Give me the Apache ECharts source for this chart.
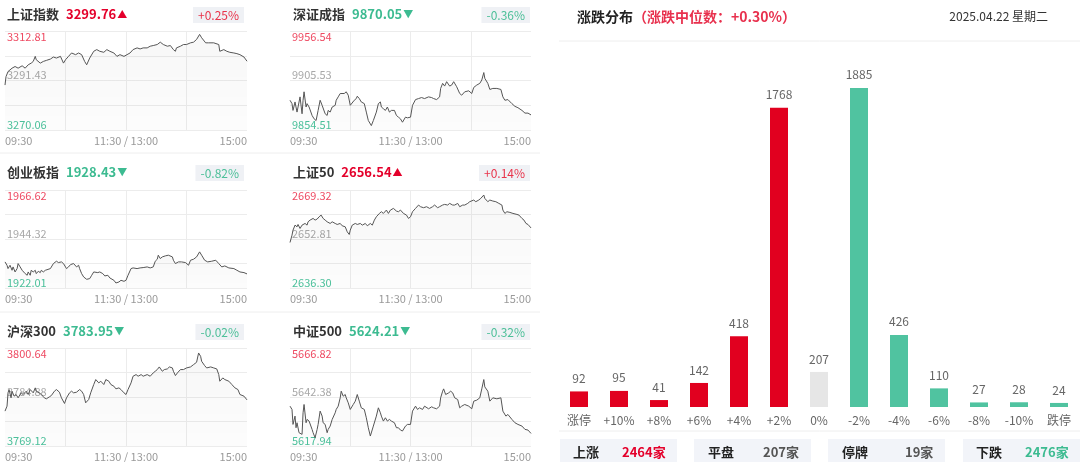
<!DOCTYPE html>
<html>
<head>
<meta charset="utf-8">
<script src="https://cdn.jsdelivr.net/npm/echarts@6/dist/echarts.min.js"></script>
<style>
  html, body { margin: 0; padding: 0; background: #fff; }
  #main { width: 1080px; height: 462px; }
</style>
</head>
<body>
<div id="main"></div>
<script>
// index panels
const indexNames = ['上证指数', '深证成指', '创业板指', '上证50', '沪深300', '中证500'];
const indexLast = ['3299.76', '9870.05', '1928.43', '2656.54', '3783.95', '5624.21'];
const indexPct = ['+0.25%', '-0.36%', '-0.82%', '+0.14%', '-0.02%', '-0.32%'];
const axisHigh = [3312.81, 9956.54, 1966.62, 2669.32, 3800.64, 5666.82];
const axisMid = [3291.43, 9905.53, 1944.32, 2652.81, 3784.88, 5642.38];
const axisLow = [3270.06, 9854.51, 1922.01, 2636.30, 3769.12, 5617.94];
const timeLabels = ['09:30', '11:30 / 13:00', '15:00'];

// [minute from 09:30, index value]
const lineSH = [[0,3289.46],[1,3293.11],[3,3295.30],[7,3296.76],[10,3297.48],[13,3296.76],[17,3297.78],[20,3296.76],[23,3298.21],[26,3298.94],[28,3299.67],[30,3301.86],[31,3300.40],[35,3298.94],[38,3299.67],[41,3300.11],[45,3300.69],[48,3301.57],[51,3301.13],[55,3301.86],[58,3298.94],[60,3300.40],[63,3301.86],[66,3303.32],[70,3302.59],[73,3303.32],[76,3302.59],[79,3299.67],[81,3298.21],[84,3301.13],[88,3304.05],[91,3304.78],[94,3304.05],[98,3303.61],[101,3304.78],[104,3304.05],[108,3303.32],[111,3301.86],[114,3302.59],[118,3301.86],[121,3302.59],[124,3303.32],[127,3304.78],[131,3305.51],[134,3305.07],[137,3305.51],[141,3305.51],[144,3306.24],[147,3306.53],[151,3306.97],[154,3307.99],[157,3306.97],[161,3306.24],[164,3306.53],[167,3304.78],[169,3304.05],[170,3305.51],[174,3306.24],[177,3306.97],[180,3306.97],[184,3307.70],[187,3307.99],[190,3309.16],[193,3311.35],[195,3309.89],[199,3307.70],[202,3307.70],[207,3307.70],[212,3306.97],[213,3304.05],[217,3304.78],[220,3304.05],[223,3303.61],[227,3303.32],[230,3303.03],[233,3302.59],[237,3301.57],[240,3299.76]];
const lineSZ = [[0,9885.16],[2,9881.68],[3,9874.71],[5,9883.42],[7,9872.97],[8,9878.20],[10,9888.64],[12,9871.23],[13,9885.16],[14,9893.87],[16,9878.20],[17,9881.68],[19,9878.20],[22,9869.49],[24,9866.01],[26,9864.27],[28,9874.71],[30,9885.16],[32,9879.94],[33,9878.20],[35,9871.23],[37,9869.49],[38,9874.71],[40,9872.97],[42,9878.20],[45,9879.94],[46,9885.16],[48,9888.64],[50,9892.12],[51,9893.87],[54,9892.12],[56,9893.87],[58,9890.38],[60,9879.94],[61,9880.98],[64,9885.16],[66,9886.90],[67,9889.34],[69,9886.90],[71,9883.42],[74,9881.68],[76,9872.97],[78,9864.27],[81,9859.05],[83,9864.27],[86,9872.97],[88,9881.68],[90,9883.42],[91,9878.20],[93,9876.46],[95,9874.71],[97,9878.20],[99,9872.97],[101,9874.71],[104,9874.71],[106,9869.49],[108,9867.75],[110,9866.01],[112,9862.53],[115,9867.75],[117,9867.05],[120,9867.75],[122,9879.94],[125,9885.86],[128,9886.90],[131,9887.95],[134,9886.90],[138,9888.64],[141,9887.95],[143,9886.90],[146,9885.86],[149,9888.64],[150,9897.35],[152,9902.57],[154,9899.78],[156,9904.31],[159,9899.78],[161,9900.83],[163,9904.31],[166,9899.09],[169,9892.12],[171,9890.38],[174,9893.87],[178,9894.91],[181,9892.12],[183,9898.39],[186,9900.83],[189,9902.57],[191,9906.05],[193,9913.71],[194,9907.79],[197,9902.57],[199,9896.30],[202,9897.35],[206,9897.35],[210,9896.30],[212,9888.64],[214,9885.16],[217,9885.86],[221,9881.68],[224,9878.89],[227,9877.50],[231,9874.71],[234,9871.93],[237,9871.93],[240,9870.05]];
const lineCYB = [[0,1933.89],[2,1932.37],[3,1930.85],[5,1932.37],[7,1930.08],[8,1931.61],[10,1929.32],[12,1930.85],[13,1933.13],[15,1931.61],[17,1930.08],[18,1929.32],[20,1928.56],[22,1927.80],[23,1929.32],[25,1927.80],[26,1930.08],[28,1929.32],[30,1930.08],[31,1928.56],[33,1929.63],[35,1929.02],[36,1930.08],[38,1929.32],[40,1930.08],[41,1930.08],[45,1930.85],[48,1933.13],[51,1934.20],[53,1933.59],[56,1933.89],[58,1933.13],[61,1930.85],[63,1931.61],[65,1932.67],[68,1933.13],[71,1931.61],[73,1932.37],[74,1930.85],[76,1928.56],[78,1927.04],[81,1925.97],[84,1926.28],[86,1927.80],[88,1929.32],[89,1930.08],[92,1929.02],[94,1929.32],[97,1928.56],[99,1927.50],[102,1927.80],[104,1926.58],[108,1925.52],[110,1924.30],[113,1924.76],[115,1925.52],[118,1925.06],[120,1925.52],[122,1927.80],[125,1930.85],[127,1931.15],[131,1930.85],[134,1931.15],[137,1931.30],[141,1931.61],[144,1931.15],[147,1931.61],[149,1934.20],[151,1935.11],[152,1936.94],[154,1935.41],[156,1936.17],[159,1936.63],[162,1936.94],[166,1936.17],[167,1934.65],[169,1933.13],[172,1933.89],[175,1933.89],[179,1933.59],[182,1932.37],[184,1934.65],[187,1935.11],[190,1936.17],[193,1938.46],[195,1936.94],[198,1934.65],[201,1933.89],[205,1934.20],[209,1934.65],[212,1933.13],[215,1931.61],[218,1932.06],[222,1931.15],[227,1930.85],[230,1930.08],[233,1929.32],[237,1929.02],[240,1928.43]];
const lineSZ50 = [[0,2651.63],[2,2654.11],[3,2655.80],[5,2657.49],[7,2656.92],[8,2657.71],[10,2656.36],[12,2657.49],[13,2656.92],[15,2658.05],[17,2657.49],[18,2658.61],[20,2659.18],[23,2659.74],[25,2659.18],[27,2659.52],[29,2660.30],[31,2660.87],[33,2659.74],[35,2659.18],[37,2658.61],[40,2658.05],[42,2658.61],[45,2658.05],[47,2657.71],[50,2658.05],[52,2657.26],[55,2656.92],[57,2655.23],[59,2654.33],[60,2655.80],[62,2657.49],[65,2658.05],[67,2657.71],[70,2658.05],[72,2657.49],[75,2658.05],[77,2657.26],[80,2658.05],[82,2657.49],[84,2659.18],[86,2660.30],[89,2661.43],[91,2662.00],[93,2661.43],[96,2662.56],[98,2661.43],[100,2662.56],[103,2663.12],[106,2662.22],[108,2662.00],[110,2662.56],[113,2661.43],[116,2660.87],[118,2659.74],[120,2660.30],[122,2662.00],[125,2663.12],[128,2664.25],[130,2663.69],[133,2663.35],[136,2663.69],[139,2663.12],[142,2663.69],[144,2664.25],[147,2663.35],[149,2663.69],[152,2664.25],[154,2664.47],[157,2664.25],[159,2664.81],[162,2664.25],[164,2664.25],[167,2664.81],[169,2663.69],[172,2664.25],[174,2664.25],[177,2664.81],[179,2665.38],[183,2665.94],[185,2665.38],[188,2665.94],[190,2666.50],[193,2667.63],[194,2666.50],[197,2665.38],[199,2665.94],[202,2665.60],[205,2665.38],[208,2664.81],[211,2664.25],[212,2662.56],[214,2661.43],[216,2662.00],[219,2661.77],[222,2661.43],[226,2661.09],[228,2660.87],[231,2659.74],[233,2659.18],[235,2658.05],[237,2657.71],[240,2656.54]];
const lineHS300 = [[0,3780.34],[2,3781.94],[3,3786.22],[4,3787.28],[6,3784.61],[7,3786.75],[9,3785.15],[11,3785.68],[13,3784.61],[16,3786.22],[18,3785.68],[21,3786.75],[23,3785.68],[25,3787.28],[28,3786.22],[30,3787.82],[31,3786.75],[34,3786.22],[36,3785.68],[39,3784.61],[41,3784.29],[44,3784.93],[46,3785.36],[49,3786.75],[51,3787.28],[54,3786.43],[56,3784.61],[59,3782.80],[61,3784.61],[64,3786.22],[66,3786.75],[68,3786.22],[71,3786.43],[74,3787.28],[76,3786.75],[78,3785.68],[80,3783.01],[83,3784.08],[85,3786.22],[88,3788.89],[90,3790.49],[93,3789.42],[95,3789.96],[98,3788.89],[100,3790.49],[103,3789.96],[105,3788.89],[108,3788.35],[110,3787.50],[113,3787.82],[115,3787.28],[118,3786.22],[120,3785.68],[122,3787.28],[125,3789.42],[127,3791.56],[130,3792.09],[132,3791.56],[135,3792.09],[137,3791.56],[141,3792.09],[144,3791.56],[147,3792.63],[149,3793.16],[151,3793.70],[153,3794.55],[156,3793.16],[158,3793.70],[161,3793.91],[163,3794.55],[166,3794.23],[167,3793.16],[169,3791.77],[171,3792.63],[174,3793.70],[177,3793.70],[180,3794.23],[184,3794.55],[187,3795.30],[190,3796.05],[192,3799.04],[194,3797.97],[195,3796.37],[198,3794.98],[200,3794.23],[204,3794.55],[207,3794.23],[210,3793.91],[212,3792.09],[213,3789.96],[216,3791.02],[218,3790.49],[222,3789.96],[225,3788.89],[228,3787.82],[231,3787.28],[233,3785.68],[237,3785.15],[240,3783.95]];
const lineZZ500 = [[0,5637.82],[2,5636.17],[3,5628.71],[5,5632.85],[6,5627.05],[7,5629.54],[9,5624.57],[12,5623.74],[13,5634.51],[14,5638.65],[16,5629.54],[17,5631.20],[19,5630.37],[22,5626.22],[23,5624.57],[25,5622.08],[27,5626.22],[28,5628.71],[30,5635.34],[32,5632.85],[33,5629.54],[35,5628.71],[37,5624.57],[38,5626.22],[40,5627.88],[42,5631.20],[45,5634.51],[46,5636.17],[48,5637.82],[50,5641.97],[51,5645.28],[53,5642.79],[55,5643.62],[56,5641.97],[58,5639.48],[60,5636.17],[61,5636.50],[63,5638.65],[65,5640.31],[67,5643.62],[69,5640.31],[71,5636.99],[74,5636.17],[76,5632.02],[78,5627.05],[80,5622.91],[83,5627.88],[86,5632.85],[88,5636.99],[90,5634.51],[91,5632.85],[93,5630.37],[95,5632.02],[97,5630.37],[99,5631.20],[101,5630.37],[104,5629.54],[106,5627.05],[108,5627.05],[110,5625.89],[112,5625.40],[115,5627.88],[117,5628.71],[120,5628.71],[122,5635.34],[125,5637.82],[127,5636.17],[129,5636.99],[132,5636.17],[134,5637.82],[138,5636.50],[141,5637.49],[143,5636.99],[146,5636.50],[149,5637.82],[150,5641.97],[152,5645.28],[153,5646.44],[155,5643.62],[158,5644.45],[160,5645.28],[162,5644.45],[164,5641.97],[167,5641.14],[169,5636.99],[171,5637.82],[174,5638.65],[178,5637.82],[181,5636.50],[183,5640.31],[186,5640.81],[189,5641.97],[191,5646.44],[193,5651.08],[194,5647.43],[197,5645.28],[199,5640.31],[202,5641.97],[206,5641.47],[210,5641.97],[212,5635.34],[215,5632.85],[217,5633.68],[221,5631.20],[224,5629.54],[227,5628.71],[231,5627.88],[234,5626.22],[237,5625.89],[240,5624.21]];

// rise / fall distribution
const distCategories = ['涨停', '+10%', '+8%', '+6%', '+4%', '+2%', '0%', '-2%', '-4%', '-6%', '-8%', '-10%', '跌停'];
const distCounts = [92, 95, 41, 142, 418, 1768, 207, 1885, 426, 110, 27, 28, 24];
const summaryLabels = ['上涨', '平盘', '停牌', '下跌'];
const summaryCounts = ['2464家', '207家', '19家', '2476家'];

const RED = '#e4002b', GREEN = '#3dbb91';
const FONT = '"Noto Sans CJK SC", "Noto Sans", sans-serif';

let myChart = echarts.init(document.getElementById('main'));

const lines = [lineSH, lineSZ, lineCYB, lineSZ50, lineHS300, lineZZ500];
const rowTop = [31, 190, 348], rowH = [99, 98, 99], titleTop = [8, 166, 325];
let grid = [], xAxis = [], yAxis = [], series = [], title = [];

lines.forEach((pts, i) => {
  let col = i % 2, row = Math.floor(i / 2);
  let lo = axisLow[i], span = axisHigh[i] - lo;
  let up = indexPct[i][0] === '+';

  grid.push({ left: col ? 290 : 5, width: col ? 241 : 242, top: rowTop[row], height: rowH[row] });

  xAxis.push({
    gridIndex: i, type: 'value', min: 0, max: 240, interval: 60,
    axisLine: { show: false }, axisTick: { show: false },
    splitLine: { show: true, showMinLine: false, showMaxLine: false, lineStyle: { color: '#ececec' } },
    axisLabel: {
      margin: 5, fontSize: 11, color: '#9a9a9a', alignMinLabel: 'left', alignMaxLabel: 'right',
      formatter: v => v === 0 ? timeLabels[0] : v === 120 ? timeLabels[1] : v === 240 ? timeLabels[2] : ''
    }
  });

  // lower / middle labels sit above their line
  yAxis.push({
    gridIndex: i, type: 'value', position: 'left', min: 0, max: span, interval: span / 4,
    axisLine: { show: false }, axisTick: { show: false },
    splitLine: { lineStyle: { color: '#ececec' } },
    axisLabel: {
      inside: true, margin: 2, fontSize: 11, verticalAlign: 'bottom',
      formatter: (v, idx) => idx === 0 ? '{g|' + axisLow[i].toFixed(2) + '}' : idx === 2 ? '{m|' + axisMid[i].toFixed(2) + '}' : '',
      rich: { g: { color: '#4cc29c', fontSize: 11 }, m: { color: '#a8a8a8', fontSize: 11 } }
    }
  });
  // top label sits under the top line
  yAxis.push({
    gridIndex: i, type: 'value', position: 'left', min: 0, max: span, interval: span / 4,
    axisLine: { show: false }, axisTick: { show: false }, splitLine: { show: false },
    axisLabel: {
      inside: true, margin: 2, fontSize: 11, verticalAlign: 'top', color: '#ee4a62',
      formatter: (v, idx) => idx === 4 ? axisHigh[i].toFixed(2) : ''
    }
  });

  series.push({
    type: 'line', xAxisIndex: i, yAxisIndex: 2 * i,
    data: pts.map(p => [p[0], p[1] - lo]),
    showSymbol: false, silent: true,
    lineStyle: { color: '#555', width: 1 },
    areaStyle: {
      color: new echarts.graphic.LinearGradient(0, 0, 0, 1, [
        { offset: 0, color: 'rgba(0,0,0,0.045)' },
        { offset: 1, color: 'rgba(0,0,0,0.015)' }
      ])
    }
  });

  title.push({
    left: col ? 293 : 7, top: titleTop[row], padding: 0,
    text: '{n|' + indexNames[i] + '}{v|' + indexLast[i] + '}{t|' + (up ? '▲' : '▼') + '}',
    textStyle: {
      rich: {
        n: { fontSize: 13, fontWeight: 'bold', color: '#333' },
        v: { fontSize: 13, fontWeight: 'bold', color: up ? RED : GREEN, padding: [0, 1, 0, 7] },
        t: { fontSize: 10, color: up ? RED : GREEN }
      }
    }
  });
  title.push({
    right: col ? 550 : 836, top: titleTop[row] - 1,
    text: indexPct[i], backgroundColor: '#eff1f5', padding: [2, 5],
    textStyle: { fontSize: 12, fontWeight: 'normal', color: up ? '#e8334a' : '#4cbf98' }
  });
});

// distribution bar chart
grid.push({ left: 559, width: 520, top: 60, height: 347 });
xAxis.push({
  gridIndex: 6, type: 'category', data: distCategories,
  axisLine: { show: false }, axisTick: { show: false },
  axisLabel: { margin: 7, fontSize: 12, color: '#666', interval: 0 }
});
yAxis.push({ gridIndex: 6, type: 'value', min: 0, max: 2050, show: false, splitLine: { show: false } });
series.push({
  type: 'bar', xAxisIndex: 6, yAxisIndex: 12, barWidth: 18, silent: true,
  data: distCounts,
  itemStyle: { color: p => p.dataIndex < 6 ? '#e1001f' : p.dataIndex === 6 ? '#e6e6e6' : '#50c3a0' },
  label: { show: true, position: 'top', distance: 7, fontSize: 12, color: '#666' }
});

title.push({
  left: 577, top: 10, padding: 0,
  text: '{a|涨跌分布}{b|（涨跌中位数：+0.30%）}',
  textStyle: {
    rich: {
      a: { fontSize: 14, fontWeight: 'bold', color: '#222' },
      b: { fontSize: 14, color: '#e8314e' }
    }
  }
});
title.push({
  right: 32, top: 10, padding: 0, text: '2025.04.22 星期二',
  textStyle: { fontSize: 12, fontWeight: 'normal', color: '#333' }
});

// separators and summary boxes
let graphic = [
  { type: 'line', shape: { x1: 0, y1: 153, x2: 540, y2: 153 }, style: { stroke: '#eeeeee', lineWidth: 1 } },
  { type: 'line', shape: { x1: 0, y1: 312, x2: 540, y2: 312 }, style: { stroke: '#eeeeee', lineWidth: 1 } },
  { type: 'line', shape: { x1: 559, y1: 41, x2: 1080, y2: 41 }, style: { stroke: '#eeeeee', lineWidth: 1 } },
  { type: 'line', shape: { x1: 559, y1: 431, x2: 1080, y2: 431 }, style: { stroke: '#eeeeee', lineWidth: 1 } }
];
const boxX = [560, 694, 828, 963];
const labelX = [573, 708, 842, 976];
const valueX = [622, 763, 905, 1025];
const valueColor = [RED, '#555', '#555', GREEN];
summaryLabels.forEach((s, k) => {
  graphic.push({ type: 'rect', shape: { x: boxX[k], y: 439, width: 117, height: 23 }, style: { fill: '#f2f4f9' } });
  graphic.push({ type: 'text', style: { x: labelX[k], y: 452, text: s, fill: '#222', fontSize: 13, fontWeight: 'bold', fontFamily: FONT, verticalAlign: 'middle' } });
  graphic.push({ type: 'text', style: { x: valueX[k], y: 452, text: summaryCounts[k], fill: valueColor[k], fontSize: 13, fontWeight: 'bold', fontFamily: FONT, verticalAlign: 'middle' } });
});

myChart.setOption({
  animation: false,
  textStyle: { fontFamily: FONT },
  title, grid, xAxis, yAxis, series, graphic
});
</script>
</body>
</html>
